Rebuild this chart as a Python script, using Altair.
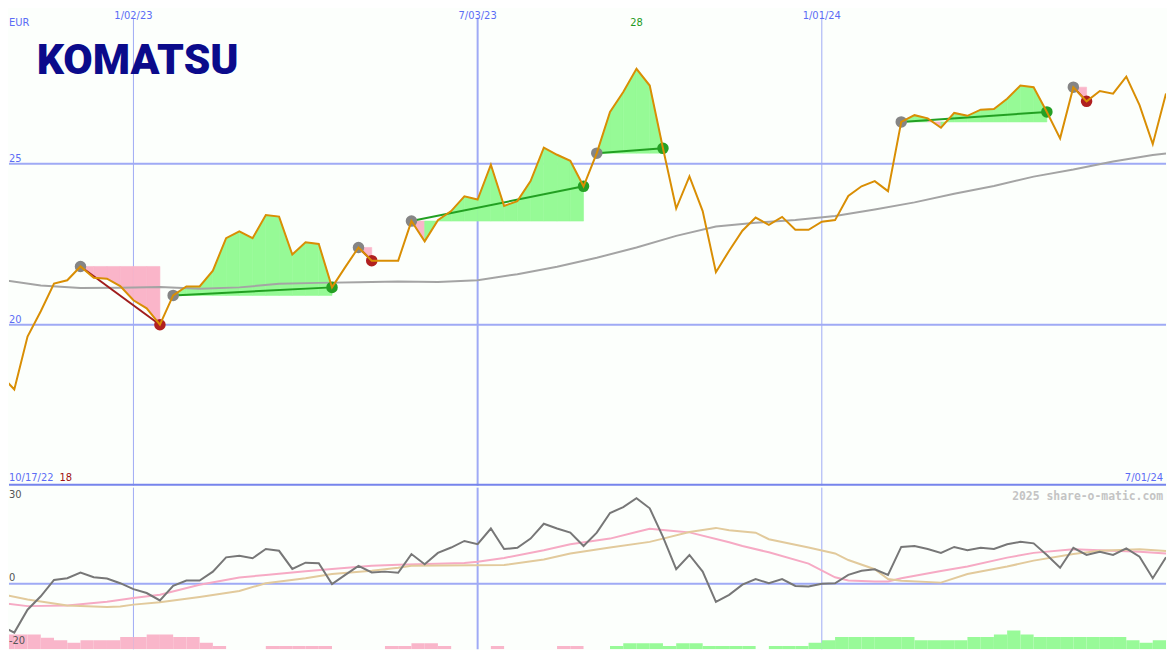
import altair as alt
import pandas as pd

# ---------------- data ----------------
START = pd.Timestamp("2022-10-24")   # first weekly close
END = pd.Timestamp("2024-07-01")     # last weekly close

price = [18.43, 17.99, 19.63, 20.42, 21.28, 21.38, 21.81, 21.46, 21.43, 21.20,
         20.76, 20.51, 20.00, 20.91, 21.19, 21.19, 21.68, 22.69, 22.90, 22.69,
         23.41, 23.36, 22.18, 22.56, 22.51, 21.16, 21.79, 22.40, 21.99, 21.99,
         21.99, 23.22, 22.59, 23.25, 23.53, 23.99, 23.89, 24.97, 23.69, 23.84,
         24.46, 25.50, 25.28, 25.09, 24.30, 25.33, 26.61, 27.23, 27.95, 27.43,
         25.48, 23.61, 24.61, 23.53, 21.63, 22.30, 22.92, 23.33, 23.10, 23.35,
         22.95, 22.95, 23.20, 23.25, 24.00, 24.30, 24.46, 24.15, 26.30, 26.51,
         26.41, 26.12, 26.58, 26.49, 26.68, 26.70, 27.02, 27.43, 27.38, 26.61,
         25.79, 27.38, 26.94, 27.26, 27.18, 27.71, 26.82, 25.61, 27.18]

ma_weeks = [0, 3, 6, 9, 12, 15, 18, 21, 24, 27, 30, 33, 36, 39, 42, 45, 48, 51,
            54, 57, 60, 63, 66, 69, 72, 75, 78, 81, 84, 87, 88]
ma_vals = [21.40, 21.22, 21.14, 21.15, 21.17, 21.12, 21.16, 21.27, 21.30, 21.32,
           21.34, 21.33, 21.38, 21.57, 21.80, 22.08, 22.40, 22.76, 23.05, 23.17,
           23.25, 23.38, 23.58, 23.80, 24.07, 24.31, 24.60, 24.82, 25.07, 25.27, 25.32]

osc = [-14.2, -16.4, -8.7, -4.2, 1.3, 1.9, 3.8, 2.2, 1.8, 0.2,
       -1.8, -3.1, -5.6, -0.7, 1.1, 1.1, 4.1, 8.9, 9.4, 8.6,
       11.7, 11.1, 5.0, 7.1, 6.9, -0.1, 3.0, 6.0, 3.8, 4.1,
       3.7, 10.0, 6.6, 10.4, 12.2, 14.4, 13.3, 18.6, 11.7, 12.1,
       15.2, 20.2, 18.6, 17.2, 12.7, 17.2, 23.8, 25.8, 28.8, 25.4,
       15.8, 4.9, 9.7, 4.1, -6.1, -3.7, -0.3, 1.6, 0.2, 1.6,
       -0.7, -0.9, 0.0, 0.2, 3.0, 4.4, 4.9, 3.0, 12.4, 12.7,
       11.7, 10.4, 12.4, 11.3, 12.1, 11.7, 13.3, 14.1, 13.6, 9.7,
       5.4, 12.1, 9.7, 10.8, 9.7, 11.9, 9.1, 1.9, 8.9]

sig_weeks = [0, 2, 5, 8, 10, 12, 15, 18, 20, 23, 25, 28, 30, 35, 36, 38, 41, 43,
             46, 48, 49, 51, 52, 55, 56, 58, 61, 63, 64, 66, 67, 68, 71, 73, 76,
             78, 81, 83, 86, 88]
sig_vals = [-6.4, -7.5, -7.3, -6.0, -4.8, -3.7, -0.3, 2.1, 3.0, 4.2, 5.0, 6.1, 6.4,
            7.0, 7.4, 8.7, 11.3, 13.3, 15.2, 17.4, 18.5, 17.7, 17.3, 14.0, 12.7,
            10.6, 6.8, 2.2, 1.1, 0.8, 0.8, 1.9, 4.3, 5.8, 8.8, 10.4, 11.6, 11.3,
            10.8, 10.2]

slow_weeks = [0, 2, 5, 8, 9, 10, 12, 15, 18, 20, 23, 25, 28, 30, 31, 38, 41, 43,
              46, 49, 50, 52, 54, 55, 57, 58, 61, 63, 64, 66, 67, 68, 71, 73, 76,
              78, 81, 83, 86, 88]
slow_vals = [-3.4, -5.3, -7.3, -7.8, -7.6, -7.0, -6.2, -4.4, -2.4, 0.2, 1.9, 3.3,
             4.4, 5.4, 6.1, 6.3, 8.2, 10.2, 12.2, 14.1, 15.2, 17.4, 18.8, 18.0,
             17.2, 15.0, 12.2, 10.2, 8.0, 4.9, 1.6, 1.0, 0.4, 3.3, 5.8, 7.8, 10.0,
             11.1, 11.6, 11.0]

hist = [-5, -5, -5, -3.9, -3, -2.2, -3, -3, -3, -4.1,
        -4.1, -5, -5, -4.1, -4.1, -2.2, -1.1, 0, 0, 0,
        -1.1, -1.1, -1.1, -1.1, -1.1, 0, 0, 0, 0, -1.1,
        -1.1, -2, -2, -1.1, 0, 0, 0, -1.1, 0, 0,
        0, 0, -1.1, -1.1, 0, 0, 1.1, 2, 2, 2,
        1.1, 2, 2, 1.1, 1.1, 1.1, 1.1, 0, 1.1, 1.1,
        1.1, 2.2, 3, 4.1, 4.1, 4.1, 4.1, 4.1, 4.1, 3,
        3, 3, 3, 4.1, 4.1, 5, 6.3, 5, 4.1, 4.1,
        4.1, 4.1, 4.1, 4.1, 4.1, 3, 2.2, 3, 3]

entry_weeks = [6, 13, 27, 31, 45, 68, 81]
exit_weeks = [12, 25, 28, 44, 50, 79, 82]

grid_dates = ["2023-01-02", "2023-07-03", "2024-01-01"]
grid_labels = ["1/02/23", "7/03/23", "1/01/24"]
grid_widths = [1, 2, 1]
price_levels = [20, 25]
osc_labels = ["30", "0", "-20"]
osc_label_pos = [30, 2, -19.3]

# ---------------- styling ----------------
FONT = "DejaVu Sans"
BG = "#fcfffc"
BLUE = "#5b6cf5"
GRID = "#9faaf5"
SEP = "#7684ec"
ORANGE = "#d98e04"
MA_C = "#a4a4a4"
OSC_C = "#777777"
SIG_C = "#f6aac4"
SLOW_C = "#e2ca9c"
WIN_FILL, LOSS_FILL = "#96fa96", "#fab5c9"
WIN_LINE, LOSS_LINE = "#22a022", "#a01c1c"
ENTRY_DOT, WIN_DOT, LOSS_DOT = "#858585", "#25a025", "#b02020"

W, H1, H2 = 1167, 479, 163
x_hi = (END - START).days
x_lo = x_hi * 8 / 1175
xs = alt.Scale(domain=[x_lo, x_hi], nice=False, zero=False)
ys1 = alt.Scale(domain=[15, 30 - 8 * 15 / 487], nice=False, zero=False)
ys2 = alt.Scale(domain=[-22, 97 / 3], nice=False, zero=False)


def X(f="t"):
    return alt.X(f"{f}:Q", scale=xs, axis=None)


def Y1(f):
    return alt.Y(f"{f}:Q", scale=ys1, axis=None)


def Y2(f):
    return alt.Y(f"{f}:Q", scale=ys2, axis=None)


one = pd.DataFrame({"a": [0]})
days = [7 * i for i in range(len(price))]

price_df = pd.DataFrame({"t": days, "p": price})
ma_df = pd.DataFrame({"t": [7 * w for w in ma_weeks], "v": ma_vals})
grid_df = pd.DataFrame({
    "t": [(pd.Timestamp(d) - START).days for d in grid_dates],
    "label": grid_labels, "w": grid_widths})

fill_rows, trade_rows, dot_rows = [], [], []
for n, (a, b) in enumerate(zip(entry_weeks, exit_weeks)):
    e = price[a]
    win = price[b] >= e
    for k in range(a, b):
        col = WIN_FILL if price[k + 1] >= e else LOSS_FILL
        for j in (k, k + 1):
            fill_rows.append({"t": days[j], "p": price[j], "e": e, "seg": f"{n}-{k}", "c": col})
    trade_rows.append({"t0": days[a], "p0": e, "t1": days[b], "p1": price[b],
                       "c": WIN_LINE if win else LOSS_LINE})
    dot_rows.append({"t": days[a], "p": e, "c": ENTRY_DOT, "o": 0})
    dot_rows.append({"t": days[b], "p": price[b], "c": WIN_DOT if win else LOSS_DOT, "o": 1})
fill_df = pd.DataFrame(fill_rows)
trade_df = pd.DataFrame(trade_rows)
dot_df = pd.DataFrame(dot_rows)

imax = price.index(max(price))

# ---------------- upper panel ----------------
vgrid1 = alt.Chart(grid_df).mark_rule(color=GRID).encode(
    x=X(), y=alt.value(7), y2=alt.value(H1), strokeWidth=alt.StrokeWidth("w:Q", scale=None))
hgrid = alt.Chart(pd.DataFrame({"v": price_levels})).mark_rule(color=GRID, strokeWidth=2).encode(
    y=Y1("v"), x=alt.value(0), x2=alt.value(W))
fills = alt.Chart(fill_df).mark_area(opacity=1, strokeWidth=0.6, clip=True).encode(
    x=X(), y=Y1("p"), y2="e:Q", detail="seg:N",
    color=alt.Color("c:N", scale=None), stroke=alt.Stroke("c:N", scale=None))
ma_line = alt.Chart(ma_df).mark_line(color=MA_C, strokeWidth=2, clip=True).encode(x=X(), y=Y1("v"))
trades = alt.Chart(trade_df).mark_rule(strokeWidth=2).encode(
    x=X("t0"), y=Y1("p0"), x2="t1:Q", y2="p1:Q", color=alt.Color("c:N", scale=None))
dots = alt.Chart(dot_df).mark_circle(size=135, opacity=1).encode(
    x=X(), y=Y1("p"), color=alt.Color("c:N", scale=None), order="o:Q")
pline = alt.Chart(price_df).mark_line(color=ORANGE, strokeWidth=2, clip=True).encode(x=X(), y=Y1("p"))
sep = alt.Chart(one).mark_rule(color=SEP, strokeWidth=2).encode(
    x=alt.value(0), x2=alt.value(W), y=alt.value(H1 - 1))

date_txt = alt.Chart(grid_df).mark_text(baseline="top", fontSize=10, font=FONT, color=BLUE).encode(
    x=X(), y=alt.value(0), text="label:N")
lvl_txt = alt.Chart(pd.DataFrame({"v": price_levels})).mark_text(
    align="left", baseline="alphabetic", dy=-2, fontSize=10, font=FONT, color=BLUE).encode(
    x=alt.value(0), y=Y1("v"), text="v:N")
eur = alt.Chart(one).mark_text(align="left", baseline="middle", fontSize=10, font=FONT, color=BLUE).encode(
    x=alt.value(0), y=alt.value(12), text=alt.value("EUR"))
max_txt = alt.Chart(pd.DataFrame({"t": [days[imax]], "l": [f"{round(max(price))}"]})).mark_text(
    baseline="middle", fontSize=10, font=FONT, color="#229922").encode(
    x=X(), y=alt.value(12), text="l:N")
start_txt = alt.Chart(one).mark_text(align="left", baseline="middle", fontSize=10, font=FONT, color=BLUE).encode(
    x=alt.value(0), y=alt.value(H1 - 8), text=alt.value("10/17/22"))
min_txt = alt.Chart(one).mark_text(align="left", baseline="middle", fontSize=10, font=FONT, color="#a01010").encode(
    x=alt.value(51), y=alt.value(H1 - 8), text=alt.value(f"{round(min(price))}"))
end_txt = alt.Chart(one).mark_text(align="right", baseline="middle", fontSize=10, font=FONT, color=BLUE).encode(
    x=alt.value(W - 3), y=alt.value(H1 - 8), text=alt.value("7/01/24"))
logo = alt.Chart(one).mark_text(align="left", baseline="alphabetic", fontSize=43, font="Roboto",
                                fontWeight=900, color="#0b0b8b").encode(
    x=alt.value(28), y=alt.value(64), text=alt.value("KOMATSU"))

upper = alt.layer(vgrid1, hgrid, fills, ma_line, trades, dots, pline, sep,
                  date_txt, lvl_txt, eur, max_txt, start_txt, min_txt, end_txt, logo
                  ).properties(width=W, height=H1)

# ---------------- lower panel ----------------
hist_df = pd.DataFrame({"t": days, "t2": [d + 7 for d in days], "h": hist})
hist_df = hist_df[hist_df["h"] != 0].copy()
hist_df["b"] = -22
hist_df["top"] = -22 + hist_df["h"].abs()
hist_df["c"] = ["#98fa98" if v > 0 else "#f9b6ca" for v in hist_df["h"]]

vgrid2 = alt.Chart(grid_df).mark_rule(color=GRID).encode(
    x=X(), y=alt.value(0), y2=alt.value(H2), strokeWidth=alt.StrokeWidth("w:Q", scale=None))
zero = alt.Chart(pd.DataFrame({"v": [0]})).mark_rule(color=GRID, strokeWidth=2).encode(
    y=Y2("v"), x=alt.value(0), x2=alt.value(W))
bars = alt.Chart(hist_df).mark_rect(clip=True).encode(
    x=X(), x2="t2:Q", y=Y2("b"), y2="top:Q", color=alt.Color("c:N", scale=None))
sig_line = alt.Chart(pd.DataFrame({"t": [7 * w for w in sig_weeks], "v": sig_vals})).mark_line(
    color=SIG_C, strokeWidth=2, clip=True).encode(x=X(), y=Y2("v"))
slow_line = alt.Chart(pd.DataFrame({"t": [7 * w for w in slow_weeks], "v": slow_vals})).mark_line(
    color=SLOW_C, strokeWidth=2, clip=True).encode(x=X(), y=Y2("v"))
osc_line = alt.Chart(pd.DataFrame({"t": days, "v": osc})).mark_line(
    color=OSC_C, strokeWidth=2, clip=True).encode(x=X(), y=Y2("v"))
osc_txt = alt.Chart(pd.DataFrame({"l": osc_labels, "v": osc_label_pos})).mark_text(
    align="left", baseline="middle", fontSize=10, font=FONT, color="#555555").encode(
    x=alt.value(0), y=Y2("v"), text="l:N")
wm = alt.Chart(one).mark_text(align="right", baseline="middle", fontSize=11.5, font="DejaVu Sans Mono",
                              fontWeight="bold", color="#c4c4c4").encode(
    x=alt.value(W - 3), y=alt.value(9), text=alt.value("2025 share-o-matic.com"))

lower = alt.layer(vgrid2, zero, bars, sig_line, slow_line, osc_line, osc_txt, wm
                  ).properties(width=W, height=H2)

chart = alt.vconcat(upper, lower, spacing=0).properties(
    padding=0, background=BG).configure_view(stroke=None)

chart.save("out.html", embed_options={"renderer": "svg", "actions": False})
